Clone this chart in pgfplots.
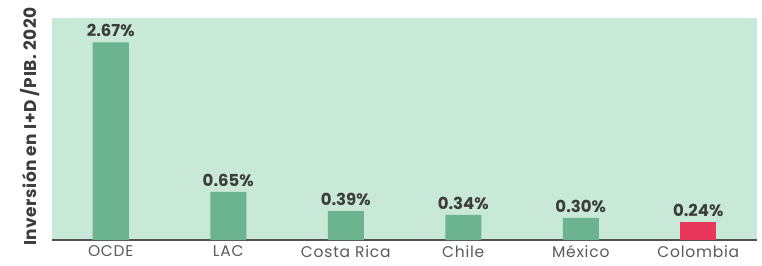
\documentclass[border=0pt]{standalone}
\usepackage{pgfplots}
\pgfplotsset{compat=1.18}
\usepackage{fontspec}
\setmainfont{Poppins}
\newfontfamily\tickfont[LetterSpace=5]{Poppins}
\newfontfamily\labfont[LetterSpace=3]{Poppins}
\definecolor{panel}{RGB}{200,232,216}
\definecolor{barg}{RGB}{108,180,144}
\definecolor{barr}{RGB}{232,55,90}
\definecolor{txt}{RGB}{60,60,60}
\definecolor{tick}{RGB}{90,90,90}
\begin{document}
\begin{tikzpicture}
\path[use as bounding box] (-52pt,-25pt) rectangle (710pt,240pt);
\begin{axis}[
  at={(0,0)}, anchor=south west,
  scale only axis, width=705pt, height=222pt,
  xmin=-0.5, xmax=5.5, ymin=0, ymax=3.0,
  axis background/.style={fill=panel},
  axis x line*=bottom, axis y line*=left,
  y axis line style={draw=none},
  x axis line style={draw=tick!90!black, line width=1.2pt, -},
  xtick={0,1,2,3,4,5},
  xticklabels={OCDE,LAC,Costa Rica,Chile,México,Colombia},
  major tick length=0pt,
  xticklabel style={font=\tickfont\fontsize{15.5}{17}\selectfont, text=tick, yshift=-2pt},
  ytick=\empty,
  ylabel={Inversión en I+D /PIB. 2020},
  ylabel style={at={(axis description cs:-0.031,0.51)}, anchor=center, font=\labfont\bfseries\fontsize{17}{19}\selectfont, text=txt},
  ybar, bar width=36pt, bar shift=0pt,
  nodes near coords={\pgfmathprintnumber[fixed,fixed zerofill,precision=2]{\pgfplotspointmeta}\%},
  every node near coord/.append style={font=\bfseries\fontsize{16.5}{18}\selectfont, text=txt, yshift=2pt},
  /pgf/number format/assume math mode=true,
]
\addplot[fill=barg, draw=none] coordinates {(0,2.67) (1,0.65) (2,0.39) (3,0.34) (4,0.30)};
\addplot[fill=barr, draw=none] coordinates {(5,0.24)};
\end{axis}
\end{tikzpicture}
\end{document}
